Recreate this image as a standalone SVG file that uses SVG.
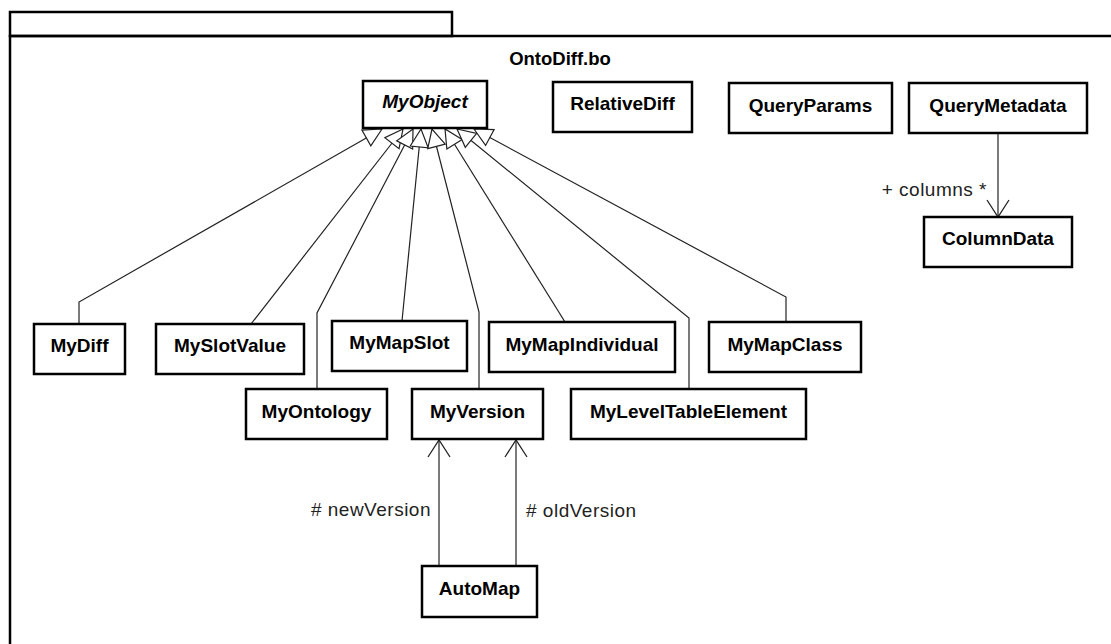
<svg xmlns="http://www.w3.org/2000/svg" width="1111" height="644" viewBox="0 0 1111 644">
  <style>
    .frame { fill: none; stroke: #000; stroke-width: 2.5; }
    .cls rect { fill: #fff; stroke: #000; stroke-width: 2.5; }
    .cls text { font-family: "Liberation Sans", Arial, sans-serif; font-weight: bold; font-size: 19px; fill: #000; text-anchor: middle; }
    .abstract text { font-style: italic; }
    .edge { fill: none; stroke: #222; stroke-width: 1.2; }
    .gen { marker-end: url(#hollowTri); }
    .nav { marker-end: url(#openArrow); }
    .role { font-family: "Liberation Sans", Arial, sans-serif; font-size: 19px; letter-spacing: 0.5px; fill: #222; }
    .pkgname { font-family: "Liberation Sans", Arial, sans-serif; font-weight: bold; font-size: 18.5px; fill: #000; text-anchor: middle; }
  </style>
  <defs>
    <marker id="hollowTri" viewBox="-20 -11 22 22" markerWidth="22" markerHeight="22" refX="0" refY="0" orient="auto" markerUnits="userSpaceOnUse">
      <path d="M0,0 L-18,-9 L-18,9 Z" fill="#fff" stroke="#222" stroke-width="1.2"/>
    </marker>
    <marker id="openArrow" viewBox="-19 -13 21 26" markerWidth="21" markerHeight="26" refX="0" refY="0" orient="auto" markerUnits="userSpaceOnUse">
      <path d="M-17,-11 L0,0 L-17,11" fill="none" stroke="#222" stroke-width="1.3"/>
    </marker>
  </defs>

  <rect width="1111" height="644" fill="#fff"/>

  <!-- package frame -->
  <g id="package">
    <rect class="frame" x="10" y="12" width="442" height="24"/>
    <rect class="frame" x="10" y="36" width="1120" height="630"/>
    <text class="pkgname" x="560" y="65">OntoDiff.bo</text>
  </g>

  <!-- connectors -->
  <g id="connectors">
    <polyline class="edge gen" points="79,324 79,302 382,129"/>
    <polyline class="edge gen" points="251,324 403,129"/>
    <polyline class="edge gen" points="317,389 317,313 413,129"/>
    <polyline class="edge gen" points="402,321 421,129"/>
    <polyline class="edge gen" points="479,389 479,312 432,129"/>
    <polyline class="edge gen" points="565,322 445,129"/>
    <polyline class="edge gen" points="689,389 689,318 457,129"/>
    <polyline class="edge gen" points="786,322 786,297 474,129"/>

    <line class="edge nav" x1="998" y1="133" x2="998" y2="217"/>
    <text class="role" x="987" y="196" text-anchor="end">+ columns *</text>

    <line class="edge nav" x1="439" y1="566" x2="439" y2="440"/>
    <text class="role" x="431" y="516" text-anchor="end"># newVersion</text>
    <line class="edge nav" x1="516" y1="566" x2="516" y2="440"/>
    <text class="role" x="526" y="517"># oldVersion</text>
  </g>

  <!-- classes -->
  <g id="MyObject" class="cls abstract">
    <rect x="363" y="81" width="124" height="47"/>
    <text x="425" y="108">MyObject</text>
  </g>
  <g id="RelativeDiff" class="cls">
    <rect x="553" y="82" width="139" height="50"/>
    <text x="622.5" y="110">RelativeDiff</text>
  </g>
  <g id="QueryParams" class="cls">
    <rect x="729" y="83" width="163" height="50"/>
    <text x="810.5" y="112">QueryParams</text>
  </g>
  <g id="QueryMetadata" class="cls">
    <rect x="909" y="83" width="178" height="50"/>
    <text x="998" y="112">QueryMetadata</text>
  </g>
  <g id="ColumnData" class="cls">
    <rect x="924" y="217" width="148" height="50"/>
    <text x="998" y="245">ColumnData</text>
  </g>
  <g id="MyDiff" class="cls">
    <rect x="34" y="324" width="91" height="50"/>
    <text x="79.5" y="352">MyDiff</text>
  </g>
  <g id="MySlotValue" class="cls">
    <rect x="156" y="324" width="148" height="50"/>
    <text x="230" y="352">MySlotValue</text>
  </g>
  <g id="MyMapSlot" class="cls">
    <rect x="332" y="321" width="135" height="50"/>
    <text x="399.5" y="349">MyMapSlot</text>
  </g>
  <g id="MyMapIndividual" class="cls">
    <rect x="489" y="322" width="186" height="50"/>
    <text x="582" y="351">MyMapIndividual</text>
  </g>
  <g id="MyMapClass" class="cls">
    <rect x="709" y="322" width="152" height="50"/>
    <text x="785" y="351">MyMapClass</text>
  </g>
  <g id="MyOntology" class="cls">
    <rect x="246" y="389" width="141" height="50"/>
    <text x="316.5" y="418">MyOntology</text>
  </g>
  <g id="MyVersion" class="cls">
    <rect x="412" y="389" width="131" height="50"/>
    <text x="477.5" y="418">MyVersion</text>
  </g>
  <g id="MyLevelTableElement" class="cls">
    <rect x="571" y="389" width="235" height="50"/>
    <text x="688.5" y="418">MyLevelTableElement</text>
  </g>
  <g id="AutoMap" class="cls">
    <rect x="422" y="566" width="115" height="51"/>
    <text x="479.5" y="595">AutoMap</text>
  </g>
</svg>
